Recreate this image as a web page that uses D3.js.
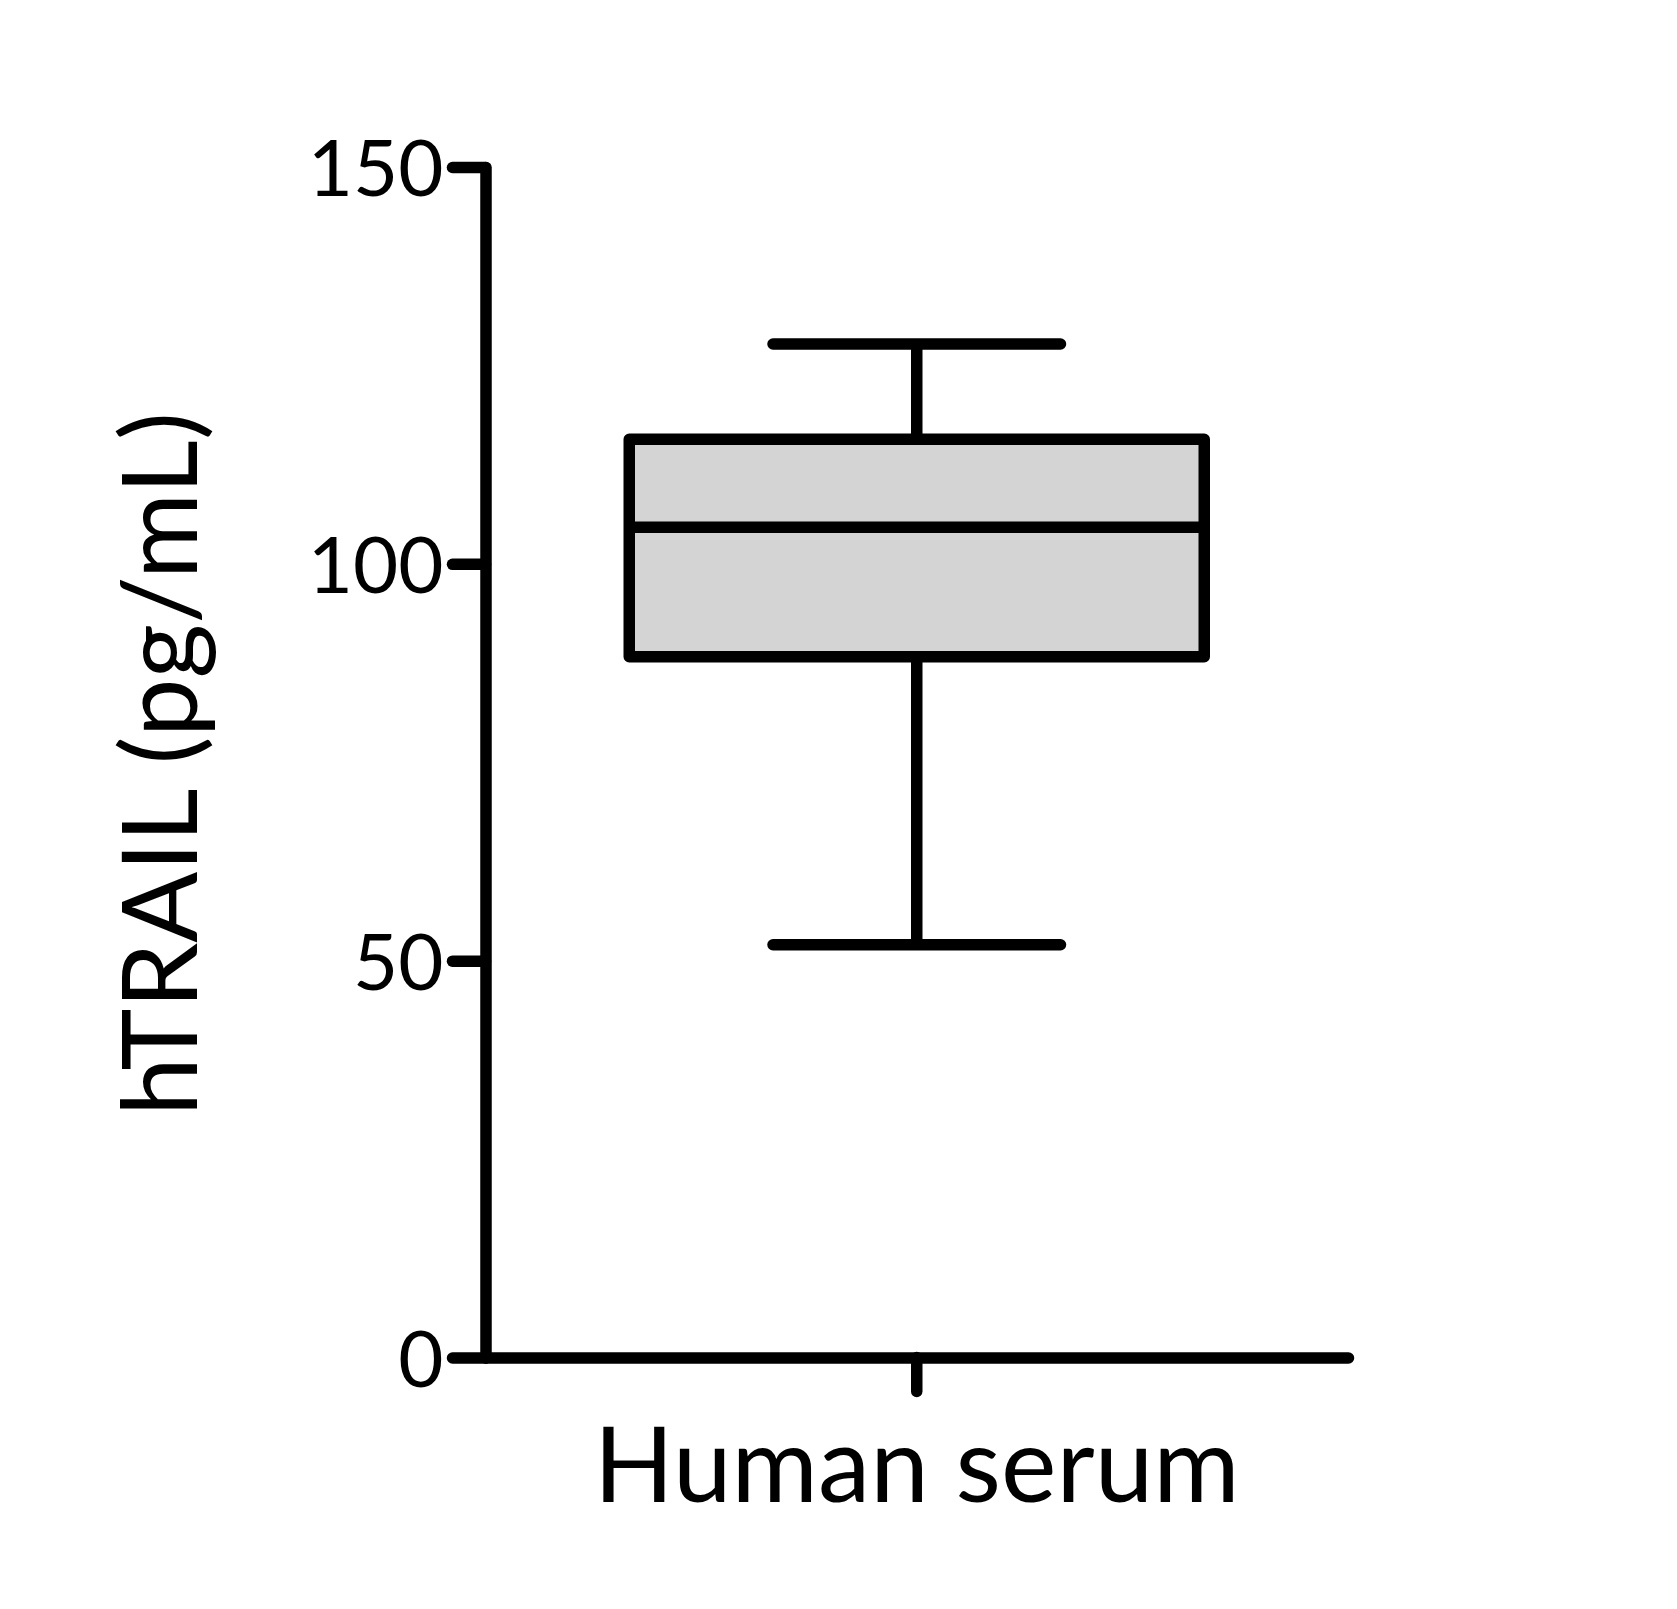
<!DOCTYPE html>
<html>
<head>
<meta charset="utf-8">
<script src="https://cdn.jsdelivr.net/npm/d3@7"></script>
<style>
    body { margin: 0; background: white; }
    text { font-family: Lato, "Open Sans", sans-serif; fill: black; }
</style>
</head>
<body>
<div id="container"></div>
<script>
// box plot, one group
const categories = ["Human serum"]
const whiskerLow = [52.0]
const q1 = [88.3]
const median = [104.6]
const q3 = [115.7]
const whiskerHigh = [127.7]
const yTicks = [0, 50, 100, 150]

const w = 1677
const h = 1609
const stroke = 11.5

const dataset = categories.map((c, i) => ({
    name: c,
    low: whiskerLow[i],
    q1: q1[i],
    median: median[i],
    q3: q3[i],
    high: whiskerHigh[i]
}))

const svg = d3.select("#container")
    .append("svg")
    .attr("width", w)
    .attr("height", h)
    .style("background-color", "white")

const yScale = d3.scaleLinear()
    .domain([0, 150])
    .range([1357.5, 167])
const xScale = d3.scaleBand()
    .domain(categories)
    .range([485.5, 1348])
    .padding(0.2)

const yAxis = d3.axisLeft(yScale)
    .tickValues(yTicks)
    .tickSize(33)
    .tickSizeOuter(0)
    .tickPadding(9)
const xAxis = d3.axisBottom(xScale)
    .tickSize(34)
    .tickSizeOuter(0)
    .tickPadding(36)

const gx = svg.append("g")
    .attr("id", "x-axis")
    .attr("transform", `translate(0, ${yScale(0)})`)
    .call(xAxis)
const gy = svg.append("g")
    .attr("id", "y-axis")
    .attr("transform", `translate(${xScale.range()[0]}, 0)`)
    .call(yAxis)

gx.selectAll("path, line")
    .attr("stroke", "black")
    .attr("stroke-width", stroke)
    .attr("stroke-linecap", "round")
gy.selectAll("path, line")
    .attr("stroke", "black")
    .attr("stroke-width", stroke)
    .attr("stroke-linecap", "round")
    .attr("stroke-linejoin", "round")
gx.selectAll("text")
    .style("font-size", "105px")
gy.selectAll("text")
    .style("font-size", "78px")
    .attr("dy", "0.37em")

svg.append("text")
    .text("hTRAIL (pg/mL)")
    .attr("text-anchor", "middle")
    .attr("transform", "translate(197, 764) rotate(-90)")
    .style("font-size", "105px")

const boxes = svg.selectAll(null)
    .data(dataset)
    .enter()
    .append("g")
    .attr("fill", "none")
    .attr("stroke", "black")
    .attr("stroke-width", stroke)

const cx = (d) => xScale(d.name) + xScale.bandwidth() / 2
const capHalf = xScale.bandwidth() / 4

// whiskers
boxes.append("line")
    .attr("x1", cx)
    .attr("x2", cx)
    .attr("y1", (d) => yScale(d.high))
    .attr("y2", (d) => yScale(d.q3))
boxes.append("line")
    .attr("x1", cx)
    .attr("x2", cx)
    .attr("y1", (d) => yScale(d.q1))
    .attr("y2", (d) => yScale(d.low))
boxes.append("line")
    .attr("x1", (d) => cx(d) - capHalf)
    .attr("x2", (d) => cx(d) + capHalf)
    .attr("y1", (d) => yScale(d.high))
    .attr("y2", (d) => yScale(d.high))
    .attr("stroke-linecap", "round")
boxes.append("line")
    .attr("x1", (d) => cx(d) - capHalf)
    .attr("x2", (d) => cx(d) + capHalf)
    .attr("y1", (d) => yScale(d.low))
    .attr("y2", (d) => yScale(d.low))
    .attr("stroke-linecap", "round")

// box + median
boxes.append("rect")
    .attr("x", (d) => xScale(d.name))
    .attr("width", xScale.bandwidth())
    .attr("y", (d) => yScale(d.q3))
    .attr("height", (d) => yScale(d.q1) - yScale(d.q3))
    .attr("fill", "#d4d4d4")
    .attr("stroke-linejoin", "round")
boxes.append("line")
    .attr("x1", (d) => xScale(d.name))
    .attr("x2", (d) => xScale(d.name) + xScale.bandwidth())
    .attr("y1", (d) => yScale(d.median))
    .attr("y2", (d) => yScale(d.median))
</script>
</body>
</html>
